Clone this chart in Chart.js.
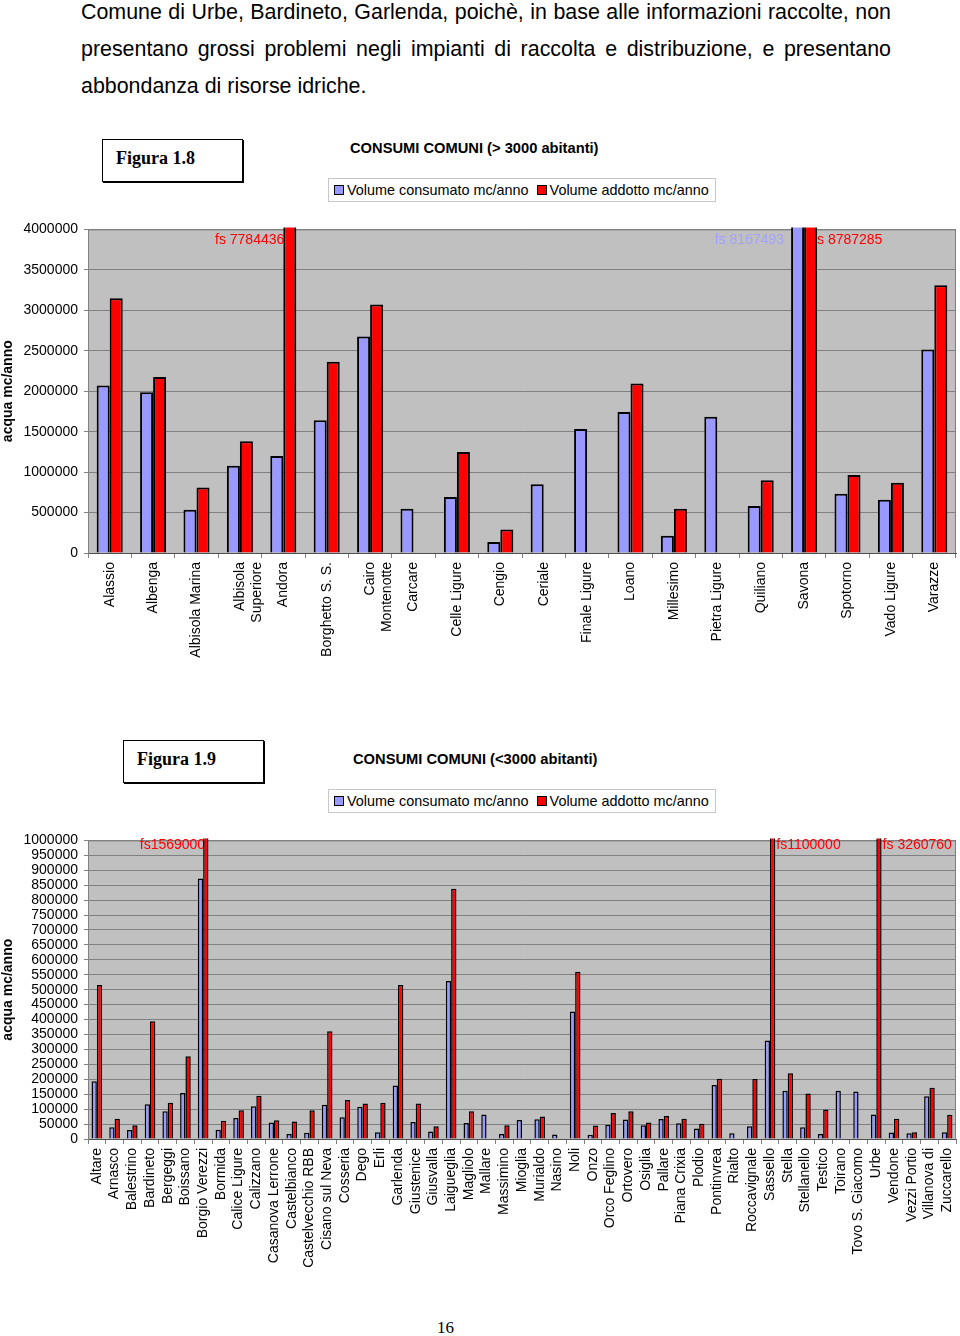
<!DOCTYPE html>
<html>
<head>
<meta charset="utf-8">
<script src="https://cdn.jsdelivr.net/npm/chart.js@4/dist/chart.umd.min.js"></script>
<style>
  body { margin: 0; width: 960px; height: 1336px; position: relative; background: #fff; overflow: hidden;
         font-family: 'Liberation Sans', Arial, sans-serif; color: #000; }
  .line { position: absolute; left: 81px; width: 810px; font-size: 21.4px; line-height: 24px; }
  .just { text-align: justify; text-align-last: justify; }
  .fig { position: absolute; height: 41px; border: 1px solid #000; box-shadow: 1px 1px 0 #000;
         font-family: 'Liberation Serif', 'Times New Roman', serif; font-weight: bold; font-size: 18px;
         line-height: 37px; padding-left: 13px; box-sizing: content-box; width: 126px; }
  .title { position: absolute; font-weight: bold; font-size: 14.7px; white-space: nowrap; }
  .legend { position: absolute; left: 328px; border: 1px solid #c8c8c8;
            font-size: 14.4px; line-height: 22px; white-space: nowrap; padding-left: 5px; box-sizing: border-box; width: 388px; height: 24px; }
  .legend span.sw { display: inline-block; width: 8px; height: 8px; border: 1px solid #000; margin-right: 3px; vertical-align: 0px; }
  .legend span.item { margin-right: 8px; }
  canvas { position: absolute; left: 0; }
  .page { position: absolute; left: 437px; top: 1318px; font-family: 'Liberation Serif', serif; font-size: 17px; }
</style>
</head>
<body>

<div class="line just" style="top:0px">Comune di Urbe, Bardineto, Garlenda, poichè, in base alle informazioni raccolte, non</div>
<div class="line just" style="top:37px">presentano grossi problemi negli impianti di raccolta e distribuzione, e presentano</div>
<div class="line" style="top:74px">abbondanza di risorse idriche.</div>

<div class="fig" style="left:102px;top:139px">Figura 1.8</div>
<div class="title" style="left:350px;top:140px">CONSUMI COMUNI (&gt; 3000 abitanti)</div>
<div class="legend" id="legend1" style="top:178px"></div>
<canvas id="chartTop" width="960" height="458" style="top:215px"></canvas>

<div class="fig" style="left:123px;top:740px">Figura 1.9</div>
<div class="title" style="left:353px;top:751px">CONSUMI COMUNI (&lt;3000 abitanti)</div>
<div class="legend" id="legend2" style="top:789px"></div>
<canvas id="chartBottom" width="960" height="453" style="top:826px"></canvas>

<div class="page">16</div>

<script>
// ---- data ----
const seriesNames = ['Volume consumato mc/anno', 'Volume addotto mc/anno'];
const seriesColors = ['#9999ff', '#ff0000'];

// comuni > 3000 abitanti
const topCategories = ['Alassio', 'Albenga', 'Albisola Marina', ['Albisola', 'Superiore'], 'Andora',
  'Borghetto S. S.', ['Cairo', 'Montenotte'], 'Carcare', 'Celle Ligure', 'Cengio', 'Ceriale',
  'Finale Ligure', 'Loano', 'Millesimo', 'Pietra Ligure', 'Quiliano', 'Savona', 'Spotorno',
  'Vado Ligure', 'Varazze'];
const topConsumato = [2069000, 1988000, 536000, 1080000, 1198000, 1640000, 2675000, 548000, 691000,
  135000, 851000, 1534000, 1742000, 213000, 1685000, 581000, 8167493, 732000, 658000, 2515000];
const topAddotto = [3149000, 2176000, 810000, 1382000, 7784436, 2364000, 3072000, null, 1247000,
  290000, null, null, 2094000, 548000, null, 900000, 8787285, 965000, 867000, 3309000];
const topMax = 4000000;
const topStep = 500000;
// labels for bars that go off the scale
const topNotes = [
  { index: 4, dataset: 1, text: 'fs 7784436', side: 'before', dx: 1, color: '#ff0000' },
  { index: 16, dataset: 0, text: 'fs 8167493', side: 'before', dx: -7, color: '#a3a3ff' },
  { index: 16, dataset: 1, text: 'fs 8787285', side: 'after', dx: -4, color: '#ff0000' }
];

// comuni < 3000 abitanti
const bottomCategories = ['Altare', 'Arnasco', 'Balestrino', 'Bardineto', 'Bergeggi', 'Boissano',
  'Borgio Verezzi', 'Bormida', 'Calice Ligure', 'Calizzano', 'Casanova Lerrone', 'Castelbianco',
  'Castelvecchio RBB', 'Cisano sul Neva', 'Cosseria', 'Dego', 'Erli', 'Garlenda', 'Giustenice',
  'Giusvalla', 'Laigueglia', 'Magliolo', 'Mallare', 'Massimino', 'Mioglia', 'Murialdo', 'Nasino',
  'Noli', 'Onzo', 'Orco Feglino', 'Ortovero', 'Osiglia', 'Pallare', 'Piana Crixia', 'Plodio',
  'Pontinvrea', 'Rialto', 'Roccavignale', 'Sassello', 'Stella', 'Stellanello', 'Testico', 'Toirano',
  'Tovo S. Giacomo', 'Urbe', 'Vendone', 'Vezzi Portio', 'Villanova di', 'Zuccarello'];
const bottomConsumato = [193000, 39000, 30000, 116000, 93000, 154000, 872000, 31000, 70000, 110000,
  55000, 17000, 21000, 115000, 73000, 108000, 23000, 179000, 57000, 25000, 529000, 54000, 82000,
  17000, 64000, 66000, 15000, 427000, 14000, 48000, 65000, 46000, 67000, 53000, 35000, 181000,
  19000, 43000, 330000, 162000, 39000, 17000, 162000, 159000, 82000, 22000, 19000, 143000, 23000];
const bottomAddotto = [516000, 68000, 46000, 394000, 121000, 277000, 1569000, 61000, 96000, 145000,
  63000, 59000, 96000, 361000, 131000, 119000, 121000, 516000, 119000, 43000, 838000, 93000, null,
  46000, null, 75000, null, 560000, 45000, 87000, 93000, 55000, 77000, 68000, 51000, 202000,
  null, 201000, 1100000, 220000, 152000, 99000, null, null, 3260760, 68000, 23000, 172000, 81000];
const bottomMax = 1000000;
const bottomStep = 50000;
const bottomNotes = [
  { index: 6, dataset: 1, text: 'fs1569000', side: 'before', dx: 2, color: '#ff0000' },
  { index: 38, dataset: 1, text: 'fs1100000', side: 'after', dx: 1, color: '#ff0000' },
  { index: 44, dataset: 1, text: 'fs 3260760', side: 'after', dx: 1, color: '#ff0000' }
];

const yTitle = 'acqua mc/anno';

// ---- chart setup ----
Chart.defaults.font.family = "'Liberation Sans', Arial, sans-serif";
Chart.defaults.font.size = 14;
Chart.defaults.color = '#000';

function buildLegend(id) {
  document.getElementById(id).innerHTML = seriesNames.map((n, i) =>
    '<span class="item"><span class="sw" style="background:' + seriesColors[i] + '"></span>' + n + '</span>'
  ).join('');
}
buildLegend('legend1');
buildLegend('legend2');

const plotBg = {
  id: 'plotBg',
  beforeDraw(chart) {
    const { ctx, chartArea: a } = chart;
    ctx.save();
    ctx.fillStyle = '#c0c0c0';
    ctx.fillRect(a.left, a.top, a.right - a.left, a.bottom - a.top);
    ctx.restore();
  },
  beforeDatasetsDraw(chart) {
    const { ctx, chartArea: a } = chart;
    ctx.save();
    ctx.strokeStyle = '#808080';
    ctx.lineWidth = 1;
    ctx.beginPath();
    ctx.moveTo(a.left, a.top + 0.5);
    ctx.lineTo(a.right - 0.5, a.top + 0.5);
    ctx.lineTo(a.right - 0.5, a.bottom);
    ctx.stroke();
    ctx.restore();
  }
};

const notesPlugin = {
  id: 'notes',
  beforeDatasetsDraw(chart, args, opts) {
    const { ctx, chartArea } = chart;
    ctx.save();
    ctx.font = "14px 'Liberation Sans', Arial, sans-serif";
    ctx.textBaseline = 'middle';
    (opts.items || []).forEach(n => {
      const bar = chart.getDatasetMeta(n.dataset).data[n.index];
      const y = chartArea.top + opts.dy;
      ctx.fillStyle = n.color;
      if (n.side === 'before') {
        ctx.textAlign = 'right';
        ctx.fillText(n.text, bar.x - bar.width / 2 + n.dx, y);
      } else {
        ctx.textAlign = 'left';
        ctx.fillText(n.text, bar.x + bar.width / 2 + n.dx, y);
      }
    });
    ctx.restore();
  }
};

function makeChart(id, categories, consumato, addotto, max, step, notes, noteY, xHeight, bw) {
  return new Chart(document.getElementById(id), {
    type: 'bar',
    data: {
      labels: categories,
      datasets: [{
        label: seriesNames[0],
        data: consumato,
        backgroundColor: seriesColors[0],
        borderColor: '#000',
        borderWidth: bw,
        clip: 2
      }, {
        label: seriesNames[1],
        data: addotto,
        backgroundColor: seriesColors[1],
        borderColor: '#000',
        borderWidth: bw,
        clip: 2
      }]
    },
    options: {
      responsive: false,
      animation: false,
      devicePixelRatio: 1,
      layout: { padding: { top: 12, right: 4, left: 0, bottom: 0 } },
      datasets: { bar: { categoryPercentage: 0.6, barPercentage: 1 } },
      plugins: {
        legend: { display: false },
        tooltip: { enabled: false },
        notes: { items: notes, dy: noteY }
      },
      scales: {
        x: {
          grid: { offset: true, drawOnChartArea: false, drawTicks: true, tickLength: 5, color: '#808080' },
          border: { color: '#505050' },
          ticks: { autoSkip: false, maxRotation: 90, minRotation: 90, padding: 4 },
          afterFit(scale) {
            scale.height = xHeight;
            scale.paddingRight = 0;
          }
        },
        y: {
          min: 0,
          max: max,
          grid: { color: '#808080', tickLength: 4 },
          border: { color: '#808080' },
          ticks: { stepSize: step, autoSkip: false, padding: 6, callback: v => String(v) },
          title: { display: true, text: yTitle, font: { weight: 'bold', size: 14 }, padding: 0 },
          afterFit(scale) { scale.width = 88; }
        }
      }
    },
    plugins: [plotBg, notesPlugin]
  });
}

makeChart('chartTop', topCategories, topConsumato, topAddotto, topMax, topStep, topNotes, 11, 120, 2);
makeChart('chartBottom', bottomCategories, bottomConsumato, bottomAddotto, bottomMax, bottomStep, bottomNotes, 5, 140, 1.5);
</script>
</body>
</html>
